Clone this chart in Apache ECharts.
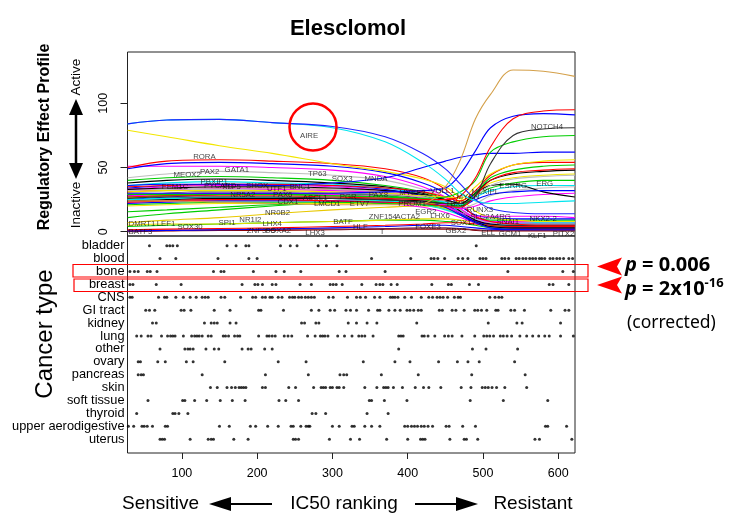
<!DOCTYPE html>
<html><head><meta charset="utf-8">
<script src="https://cdn.jsdelivr.net/npm/echarts@6/dist/echarts.min.js"></script>
<style>html,body{margin:0;padding:0;background:#fff}#c{width:733px;height:515px}</style>
</head><body><div id="c"></div><script>
// ---------- DATA ----------
const chartTitle = 'Elesclomol';
const xTicks = [100, 200, 300, 400, 500, 600];
const yTicks = [0, 50, 100];
const xGrid = [28, 80, 150, 220, 300, 370, 420, 450, 470, 490, 510, 540, 580, 622];

// regulatory effect profiles (values at xGrid)
const declineBlueAIRE = [84, 87, 87.5, 85, 82, 74, 61, 49, 37, 25, 18, 15, 14, 14];
const declineCyanAIRE = [84, 87, 87.5, 85, 81, 70, 54, 41, 30, 24, 22, 22, 23, 24];
const declineYellowTop = [79, 74, 67, 61, 53, 47, 41, 35, 26, 16, 11, 9, 8, 8];
const declineRedRORA = [50, 55, 56, 55, 53, 49, 42, 33, 22, 12, 8, 6, 5, 5];
const declineBlueA = [49, 53, 54, 53, 51, 46, 38, 30, 20, 13, 11, 10, 10, 10];
const declineMagentaA = [51, 51, 51, 50, 48, 43, 35, 27, 18, 11, 8, 8, 8, 8];
const declineGrayA = [42, 45, 47, 46, 44, 40, 33, 26, 17, 10, 7, 6, 6, 6];
const declineBlackA = [38, 40, 41, 40, 38, 35, 30, 24, 16, 9, 6, 5, 5, 5];
const declineGreenA = [40, 42, 43, 42, 40, 36, 31, 25, 17, 11, 9, 9, 9, 9];
const declineCyanB = [36, 38, 39, 38, 37, 34, 29, 23, 15, 10, 8, 8, 7, 7];
const declineBlueB = [34, 36, 37, 37, 36, 33, 28, 22, 14, 8, 6, 6, 6, 6];
const declineMagentaB = [33, 35, 36, 36, 35, 32, 27, 20, 14, 9, 7, 7, 7, 7];
const declineRedB = [31, 33, 34, 34, 33, 31, 27, 21, 15, 9, 5, 4, 4, 4];
const declineGrayB = [30, 32, 33, 33, 32, 30, 27, 22, 16, 9, 6, 5, 5, 5];
const declineBlackB = [28, 30, 31, 31, 30, 29, 26, 21, 15, 8, 4, 3, 3, 3];
const declineGreenB = [26, 28, 29, 29, 29, 28, 25, 20, 14, 8, 5, 4, 4, 4];
const declineBlueC = [25, 27, 29, 30, 30, 28, 24, 19, 13, 7, 3, 2, 2, 2];
const declineYellowNR0B2 = [7, 9, 11, 14, 17, 19, 20, 18, 13, 8, 5, 4, 4, 4];
const declineGreenC = [11, 14, 17, 20, 23, 24, 23, 19, 13, 7, 4, 3, 3, 3];
const declineDarkRed = [0, 0.5, 1, 1, 1.5, 2, 2, 2, 2, 1, 0.5, 0.5, 0.5, 0.5];
const declineMaroon = [1, 1, 1.5, 2, 2, 2.5, 3, 3, 2.5, 1.5, 1, 1, 1, 1];
const declineMagentaC = [23, 24, 25, 25, 24, 22, 19, 15, 11, 7, 4, 3, 3, 3];
const declineCyanC = [25, 26, 27, 27, 26, 24, 21, 17, 13, 9, 6, 5, 5, 5];
const declineBlueD = [0.5, 1, 1.5, 2, 3, 4, 5, 5, 4, 3, 2, 1.5, 1.5, 1.5];
const declineRedC = [1.5, 2, 2.5, 3, 4, 5, 6, 7, 7, 6, 4, 3, 2, 2];
const declineGreenD = [15.6, 17, 19, 21, 22, 22, 21, 18, 14, 10, 7, 6, 6, 6];
const declineGreenE = [4, 5, 6, 7, 8, 9, 9, 8, 7, 5, 3, 2, 2, 2];
const declineYellowC = [5, 6, 6, 7, 8, 9, 10, 10, 9, 7, 5, 4, 4, 4];
const riseTan = [24, 24, 23, 22, 21, 21, 22, 35, 56, 88, 107, 126, 125, 121];
const riseRedA = [27, 28, 28, 28, 27, 26, 25, 25, 28, 42, 66, 88, 94, 95];
const riseBlueA = [30, 30, 30, 30, 30, 31, 32, 34, 45, 63, 81, 90, 92, 91];
const riseBlackNOTCH4 = [26, 27, 27, 27, 26, 25, 23, 22, 22, 28, 53, 75, 80, 81];
const riseGreenA = [29, 29, 29, 29, 28, 27, 26, 27, 31, 40, 62, 70, 74, 75];
const riseBlueMNDA = [36, 37, 37, 36, 38, 42, 50, 55, 58, 60, 61, 61, 62, 62];
const riseYellowA = [31, 32, 32, 32, 31, 30, 28, 27, 26, 35, 45, 52, 55, 56];
const riseRedB = [35, 36, 37, 37, 36, 34, 31, 27, 24, 32, 44, 52, 54, 54];
const riseGreenB = [27, 28, 29, 29, 28, 27, 25, 22, 20, 30, 42, 48, 51, 52];
const riseRedC = [23, 24, 25, 25, 24, 23, 22, 20, 19, 28, 40, 46, 48, 49];
const riseBlackA = [33, 34, 35, 35, 34, 32, 29, 25, 22, 30, 40, 45, 47, 48];
const riseGrayA = [29, 30, 31, 31, 30, 29, 27, 24, 22, 28, 36, 41, 43, 44];
const riseGreenC = [21, 22, 23, 23, 23, 22, 21, 20, 20, 28, 34, 38, 40, 40];
const riseCyanA = [25, 26, 27, 27, 27, 26, 25, 23, 21, 27, 32, 35, 36, 36];
const riseBlueB = [22, 23, 24, 24, 24, 23, 22, 20, 20, 25, 29, 31, 32, 32];
const riseBlackERG = [24, 25, 26, 26, 26, 25, 24, 22, 22, 30, 36, 37, 31, 27];
const riseMagentaA = [28, 29, 30, 30, 29, 27, 24, 21, 18, 20, 24, 27, 29, 30];
const riseGrayB = [32, 33, 34, 34, 33, 31, 27, 22, 18, 22, 28, 32, 34, 35];
const flatMagenta = [32, 33, 34, 33, 32, 30, 26, 20, 15, 12, 12, 12, 12, 11];
const riseYellowB = [20, 21, 22, 22, 22, 22, 22, 22, 24, 30, 38, 42, 44, 45];

const profiles = [
  declineGreenE, declineYellowC, declineDarkRed, declineMaroon, declineBlueD, declineRedC,
  declineGreenD, declineYellowNR0B2, declineGreenC, declineMagentaC, declineCyanC,
  declineBlueC, declineGreenB, declineBlackB, declineGrayB, declineRedB, declineMagentaB,
  declineBlueB, declineCyanB, declineGreenA, declineBlackA, declineGrayA, declineMagentaA,
  declineBlueA, declineRedRORA, declineYellowTop,
  riseYellowB, flatMagenta, riseGrayB, riseMagentaA, riseBlackERG, riseBlueB, riseCyanA,
  riseGreenC, riseGrayA, riseBlackA, riseRedC, riseGreenB, riseRedB, riseYellowA,
  riseBlueMNDA, riseGreenA, riseBlackNOTCH4, riseBlueA, riseRedA, riseTan,
  declineCyanAIRE, declineBlueAIRE
];
const profileColors = [
  '#00CD00', '#E8DC00', '#8B0000', '#7A1F3D', '#0000FF', '#FF0000',
  '#00CD00', '#E8C800', '#00CD00', '#FF00FF', '#00E5EE',
  '#0000FF', '#00CD00', '#000000', '#BEBEBE', '#FF0000', '#FF00FF',
  '#0000FF', '#00E5EE', '#00CD00', '#000000', '#BEBEBE', '#FF00FF',
  '#0000FF', '#FF0000', '#F2E600',
  '#F2E600', '#FF00FF', '#BEBEBE', '#FF00FF', '#000000', '#0000FF', '#00E5EE',
  '#00CD00', '#BEBEBE', '#000000', '#FF0000', '#00CD00', '#FF0000', '#F2E600',
  '#0000FF', '#00CD00', '#333333', '#0000FF', '#FF0000', '#D4A04A',
  '#00E5EE', '#2222FF'
];

// gene labels
const geneNames = ['AIRE','RORA','PAX2','GATA1','MEOX2','TP63','SOX3','MNDA','PBXIP1','FEM1C','PYCARD','KLF5','SHOX','UTF1','BNC1','NR5A2','PAX6','CDX1','ASCL1','LMCD1','PGR','ETV7','PAX8','MYEF2','VGLL1','PROM1','EGR2','NR0B2','NR1I2','SPI1','LHX4','SOX30','LEF1','DMRT1','BATF3','ZNF395','FOXA2','BATF','HLF','LHX3','T','ZNF154','ACTA2','FOXE3','GBX2','ELL','GCM1','KLF1','PITX2','NKX2-2','NOTCH4','ESRRG','ERG','MLXIPL','MYCN','TBX3','RUNX3','SLC2A4RG','SNAI1','SOX17','LHX6'];
const geneX = [269,130,137,173,107,280,313,358,143,91,151,166,200,226,257,181,234,241,277,293,321,336,361,406,446,406,424,227,191,160,220,111,79,47,45,205,228,314,337,277,366,367,400,427,464,507,536,572,607,580,585,540,582,503,480,463,496,510,533,474,443];
const geneY = [75,58,47,48.5,44.6,45.4,41.5,40.8,38.5,34.6,35.4,35,35.4,33,34.6,29,28.5,23,26,21.5,27,22,29,30,31.5,22,15.4,14.6,9,7,6,4,6,6,0,1,1,7.7,4,-0.7,0,11.5,11.5,4,1,-0.7,-2,-3,-1.5,10,82,36,37,31,27,21.5,17,11.5,7.7,7,12];

// cancer type strip data (IC50 ranking positions of cell lines)
const cancerTypes = ['bladder','blood','bone','breast','CNS','GI tract','kidney','lung','other','ovary','pancreas','skin','soft tissue','thyroid','upper aerodigestive','uterus'];
const bladder = [57,80,84,88,94,160,172,185,189,231,244,253,281,292,306,491];
const blood = [71,92,148,189,200,352,404,431,435,440,449,467,473,480,496,500,504,525,529,534,544,548,553,557,562,566,570,575,578,582,589,593,598,602,607,614,619];
const bone = [31,37,42,54,58,67,142,152,156,195,225,236,258,309,318,370,533,606,620];
const breast = [31,35,66,99,180,197,201,207,220,225,257,272,297,301,305,313,339,358,363,367,378,386,432,454,458,482,494,588,593,614];
const cns = [31,34,69,77,80,92,102,111,119,127,131,135,152,157,178,194,198,207,211,217,220,228,233,243,247,250,255,259,264,268,272,276,295,301,320,332,337,344,356,363,377,380,383,387,396,405,418,428,433,439,443,447,453,462,467,470,509,516,521,525];
const giTract = [52,57,64,99,103,112,143,164,202,205,235,272,282,297,303,318,324,332,348,360,363,375,383,390,399,403,408,414,418,442,446,459,464,475,489,493,498,505,517,520,537,542,555,590,609,614];
const kidney = [61,66,130,139,143,147,164,172,259,263,278,282,321,332,346,359,412,507,545,552,603];
const lung = [40,46,55,59,73,81,85,88,91,102,113,117,120,123,127,135,139,155,158,162,170,174,177,202,213,216,220,224,236,241,246,267,277,284,287,290,294,307,316,326,335,339,343,354,388,391,394,419,422,427,436,449,454,459,472,489,501,505,509,514,523,527,532,538,549,558,566,574,582,588,603,620];
const other = [71,104,108,111,115,132,143,149,180,188,192,210,220,388,486,504,546];
const ovary = [42,45,68,78,106,115,157,228,265,341,383,403,441,466,480,495,542];
const pancreas = [42,46,49,127,211,268,310,315,319,365,414,485,556];
const skin = [138,147,160,166,171,176,179,182,185,207,211,242,251,275,285,288,291,297,300,306,309,315,343,359,368,371,374,381,393,410,421,428,444,471,484,499,503,507,512,518,529,558];
const softTissue = [55,101,104,117,133,151,167,184,229,238,255,349,352,369,399,483,527,586];
const thyroid = [40,88,91,96,108,273,278,291,346,374];
const upperAerodigestive = [29,36,47,50,54,61,78,81,150,163,191,198,214,228,245,248,258,265,268,270,300,309,326,329,343,352,363,396,400,405,409,413,418,422,427,433,451,455,473,490,583,586,611];
const uterus = [71,74,77,111,135,139,142,169,188,248,251,255,296,324,336,372,400,417,420,423,456,475,478,493,569,575,618];
const stripRows = [bladder, blood, bone, breast, cns, giTract, kidney, lung, other, ovary, pancreas, skin, softTissue, thyroid, upperAerodigestive, uterus];

// ---------- CHART ----------
const FF = 'Liberation Sans, Arial, Helvetica, sans-serif';
const chart = echarts.init(document.getElementById('c'));

const series = profiles.map((p, k) => ({
  type: 'line', xAxisIndex: 0, yAxisIndex: 0,
  data: xGrid.map((x, j) => [x, p[j]]),
  smooth: 0.35, symbol: 'none', showSymbol: false, silent: true,
  lineStyle: { color: profileColors[k], width: 1.1 }, z: 2
}));
series.push({
  type: 'scatter', xAxisIndex: 0, yAxisIndex: 0, symbolSize: 1, silent: true, z: 5,
  itemStyle: { color: 'rgba(0,0,0,0)' },
  data: geneNames.map((n, i) => ({ name: n, value: [geneX[i], geneY[i]] })),
  label: { show: true, position: 'inside', formatter: '{b}', fontSize: 7.8, color: '#111', fontFamily: FF }
});
const dotData = [];
stripRows.forEach((row, i) => row.forEach(x => dotData.push([x, i])));
series.push({
  type: 'scatter', xAxisIndex: 1, yAxisIndex: 1, symbol: 'circle', symbolSize: 3,
  itemStyle: { color: '#000' }, silent: true, data: dotData, z: 3
});

const red = '#FF0000';
const graphics = [
  { type: 'text', x: 348, y: 29, style: { text: chartTitle, font: 'bold 22px ' + FF, fill: '#000', align: 'center', verticalAlign: 'middle' } },
  { type: 'text', x: 45, y: 137, rotation: Math.PI / 2, style: { text: 'Regulatory Effect Profile', font: 'bold 16px ' + FF, fill: '#000', align: 'center', verticalAlign: 'middle' } },
  { type: 'text', x: 76, y: 77, rotation: Math.PI / 2, style: { text: 'Active', font: '13.5px ' + FF, fill: '#000', align: 'center', verticalAlign: 'middle' } },
  { type: 'text', x: 76, y: 205, rotation: Math.PI / 2, style: { text: 'Inactive', font: '13.5px ' + FF, fill: '#000', align: 'center', verticalAlign: 'middle' } },
  { type: 'line', shape: { x1: 76, y1: 110, x2: 76, y2: 168 }, style: { stroke: '#000', lineWidth: 2.5 } },
  { type: 'polygon', shape: { points: [[76, 99], [69, 115], [83, 115]] }, style: { fill: '#000' } },
  { type: 'polygon', shape: { points: [[76, 179], [69, 163], [83, 163]] }, style: { fill: '#000' } },
  { type: 'text', x: 45, y: 334, rotation: Math.PI / 2, style: { text: 'Cancer type', font: '24px ' + FF, fill: '#000', align: 'center', verticalAlign: 'middle' } },
  { type: 'text', x: 160.5, y: 504, style: { text: 'Sensitive', font: '19px ' + FF, fill: '#000', align: 'center', verticalAlign: 'middle' } },
  { type: 'text', x: 344, y: 504, style: { text: 'IC50 ranking', font: '19px ' + FF, fill: '#000', align: 'center', verticalAlign: 'middle' } },
  { type: 'text', x: 533, y: 504, style: { text: 'Resistant', font: '19px ' + FF, fill: '#000', align: 'center', verticalAlign: 'middle' } },
  { type: 'line', shape: { x1: 225, y1: 504, x2: 272, y2: 504 }, style: { stroke: '#000', lineWidth: 2.2 } },
  { type: 'polygon', shape: { points: [[209, 504], [231, 497], [231, 511]] }, style: { fill: '#000' } },
  { type: 'line', shape: { x1: 415, y1: 504, x2: 462, y2: 504 }, style: { stroke: '#000', lineWidth: 2.2 } },
  { type: 'polygon', shape: { points: [[478, 504], [456, 497], [456, 511]] }, style: { fill: '#000' } },
  // annotations
  { type: 'circle', shape: { cx: 313, cy: 127, r: 23.5 }, style: { stroke: red, fill: 'none', lineWidth: 2.5 }, z: 10 },
  { type: 'rect', shape: { x: 73, y: 264.5, width: 515, height: 12.5 }, style: { stroke: red, fill: 'none', lineWidth: 1.2 }, z: 10 },
  { type: 'rect', shape: { x: 74, y: 279, width: 514, height: 12.5 }, style: { stroke: red, fill: 'none', lineWidth: 1.2 }, z: 10 },
  { type: 'polygon', shape: { points: [[597, 266.5], [622, 257.5], [617, 266.5], [622, 275.5]] }, style: { fill: red }, z: 10 },
  { type: 'polygon', shape: { points: [[597, 285], [622, 276.5], [617, 285], [622, 293.5]] }, style: { fill: red }, z: 10 },
  { type: 'text', x: 625, y: 265, style: { text: '{i|p}{b| = 0.006}', verticalAlign: 'middle', rich: { i: { font: 'italic bold 20px Noto Sans', fill: '#000' }, b: { font: 'bold 20px Noto Sans', fill: '#000' } } }, z: 10 },
  { type: 'text', x: 625, y: 289, style: { text: '{i|p}{b| = 2x10}{s|-16}', verticalAlign: 'middle', rich: { i: { font: 'italic bold 20px Noto Sans', fill: '#000' }, b: { font: 'bold 20px Noto Sans', fill: '#000' }, s: { font: 'bold 13px Noto Sans', fill: '#000', verticalAlign: 'top', padding: [0, 0, 12, 0] } } }, z: 10 },
  { type: 'text', x: 627, y: 323, style: { text: '(corrected)', font: '17.5px Noto Sans', fill: '#000', verticalAlign: 'middle' }, z: 10 }
];

chart.setOption({
  animation: false,
  backgroundColor: '#fff',
  textStyle: { fontFamily: FF },
  grid: [
    { left: 127.5, right: 158, top: 52, height: 184, show: true, borderColor: '#222', borderWidth: 1, backgroundColor: 'transparent' },
    { left: 127.5, right: 158, top: 236, height: 217, show: true, borderColor: '#222', borderWidth: 1, backgroundColor: 'transparent' }
  ],
  xAxis: [
    { gridIndex: 0, type: 'value', min: 27.8, max: 622.2, show: false },
    { gridIndex: 1, type: 'value', min: 27.8, max: 622.2, position: 'bottom',
      axisLine: { show: false, onZero: false }, splitLine: { show: false },
      axisTick: { show: true, length: 6, customValues: xTicks, lineStyle: { color: '#222' } },
      axisLabel: { customValues: xTicks, margin: 14, fontSize: 12.5, color: '#000', fontFamily: FF } }
  ],
  yAxis: [
    { gridIndex: 0, type: 'value', min: -3.35, max: 140,
      axisLine: { show: false, onZero: false }, splitLine: { show: false },
      axisTick: { show: true, length: 7, customValues: yTicks, lineStyle: { color: '#222' } },
      axisLabel: { customValues: yTicks, rotate: 90, margin: 17, fontSize: 12.5, color: '#000', fontFamily: FF } },
    { gridIndex: 1, type: 'value', inverse: true, min: -0.75, max: 16.07,
      axisLine: { show: false, onZero: false }, splitLine: { show: false }, axisTick: { show: false },
      axisLabel: { customValues: cancerTypes.map((_, i) => i), formatter: v => cancerTypes[Math.round(v)], margin: 3, fontSize: 12.8, color: '#000', fontFamily: FF } }
  ],
  series: series,
  graphic: graphics
});
</script></body></html>
